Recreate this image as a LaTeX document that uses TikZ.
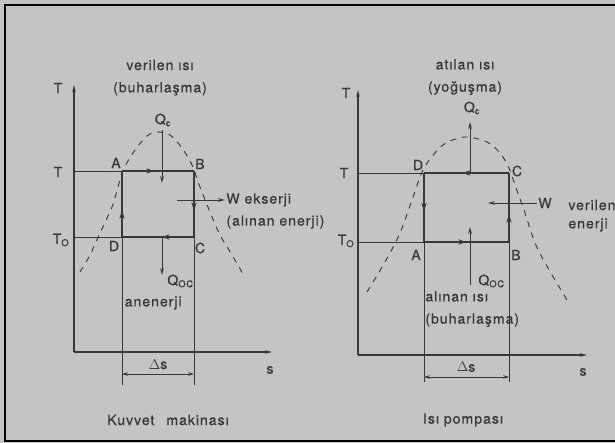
\documentclass[tikz,border=0pt]{standalone}
\usepackage{fontspec}
\setmainfont{TeX Gyre Heros}[LetterSpace=7,FakeBold=0.6]
\usetikzlibrary{arrows.meta,decorations.markings}
\definecolor{paper}{gray}{0.77}
\definecolor{ink}{gray}{0.22}

\begin{document}
\begin{tikzpicture}[every node/.style={font=\fontsize{12}{19}\selectfont, text=ink, inner sep=1pt},
	axisline/.style={ink, line width=0.9pt, -{Stealth[length=6pt,width=3pt]}},
	loopline/.style={ink, line width=1.2pt},
	guide/.style={ink, line width=0.7pt},
	flow/.style={ink, line width=0.8pt, -{Stealth[length=6pt,width=3.2pt]}},
	midarrow/.style={postaction={decorate, decoration={markings, mark=at position #1 with {\arrow{Stealth[length=7pt,width=4.5pt]}}}}},
	midarrow/.default=0.5,
	dome/.style={ink, line width=0.8pt, dash pattern=on 5pt off 5pt}]
	\fill[paper] (0,0) rectangle (18.45,13.29);
	\useasboundingbox (0,0) rectangle (18.45,13.29);
	\draw[black, line width=1.8pt] (18.45,13.14) -| (0.15,0.06) -- (18.45,0.06);

	% Kuvvet makinasi
	\coordinate (kO) at (2.22,2.73);
	\coordinate (kTop) at (2.22,10.74);
	\coordinate (kEnd) at (8.16,2.73);
	\coordinate (kT) at (2.22,8.16);
	\coordinate (kTo) at (2.22,6.18);
	\coordinate (kA) at (3.66,8.16);
	\coordinate (kB) at (5.82,8.16);
	\coordinate (kC) at (5.82,6.18);
	\coordinate (kD) at (3.66,6.18);
	\coordinate (kDb) at (3.66,1.74);
	\coordinate (kCb) at (5.82,1.74);
	\coordinate (kDs) at (3.66,2.07);
	\coordinate (kCs) at (5.82,2.07);
	\draw[axisline] (kO) -- (kTop);
	\draw[axisline] (kO) -- (kEnd);
	\draw[guide] (kT) -- (kA);
	\draw[guide] (kTo) -- (kD);
	\draw[guide] (kD) -- (kDb);
	\draw[guide] (kC) -- (kCb);
	\draw[loopline, midarrow=0.45] (kA) -- (kB);
	\draw[loopline, midarrow=0.6] (kB) -- (kC);
	\draw[loopline, midarrow=0.45] (kC) -- (kD);
	\draw[loopline, midarrow=0.4] (kD) -- (kA);
	\draw[guide, {Stealth[length=5pt,width=3pt]}-{Stealth[length=5pt,width=3pt]}] (kDs) -- (kCs);
	\draw[dome] plot[smooth] coordinates {(2.40,5.13) (2.70,5.64) (3.00,6.30) (3.36,7.08) (3.54,7.68) (3.69,8.19) (4.05,8.79) (4.41,9.21) (4.71,9.33) (5.10,9.24) (5.46,8.85) (5.76,8.34) (6.00,7.68) (6.30,6.93) (6.60,6.24) (6.96,5.64) (7.29,5.07)};
	\coordinate (kQtop) at (4.86,9.39);
	\coordinate (kQtip) at (4.86,7.80);
	\coordinate (kQoTop) at (4.86,6.18);
	\coordinate (kQoTip) at (4.86,5.04);
	\coordinate (kWs) at (5.31,7.29);
	\node (kTaxis) at (1.74,10.65) {T};
	\node (kTlab) at (1.74,8.13) {T};
	\node (kTolab) at (1.83,6.09) {T\textsubscript{O}};
	\node (kAlab) at (3.48,8.40) {A};
	\node (kBlab) at (6.00,8.37) {B};
	\node (kClab) at (6.00,5.85) {C};
	\node (kDlab) at (3.42,5.91) {D};
	\node (kslab) at (8.10,2.19) {s};
	\node (kds) at (4.74,2.36) {$\Delta$s};
	\node (kQ) at (4.89,9.69) {Q\textsubscript{c}};
	\node[anchor=west] (kQo) at (4.98,4.86) {Q\textsubscript{OC}};
	\node[anchor=west] (kAn) at (3.70,4.20) {anenerji};
	\node[anchor=west] (kW) at (6.75,7.29) {W ekserji};
	\node[anchor=west] (kWn) at (6.75,6.63) {(alınan enerji)};
	\node[align=center] (kHead) at (4.80,10.96) {verilen ısı\\(buharlaşma)};
	\node (kTitle) at (5.04,0.69) {Kuvvet\hspace{0.5em} makinası};
	\draw[flow] (kQtop) -- (kQtip);
	\draw[flow] (kQoTop) -- (kQoTip);
	\draw[flow] (kWs) -- (kW.west);

	% Isi pompasi
	\coordinate (pO) at (10.74,2.64);
	\coordinate (pTop) at (10.74,10.59);
	\coordinate (pEnd) at (17.61,2.64);
	\coordinate (pT) at (10.74,8.10);
	\coordinate (pTo) at (10.74,6.03);
	\coordinate (pD) at (12.72,8.10);
	\coordinate (pC) at (15.27,8.10);
	\coordinate (pB) at (15.27,6.03);
	\coordinate (pA) at (12.72,6.03);
	\coordinate (pAb) at (12.72,1.83);
	\coordinate (pBb) at (15.27,1.83);
	\coordinate (pAs) at (12.72,1.98);
	\coordinate (pBs) at (15.27,1.98);
	\draw[axisline] (pO) -- (pTop);
	\draw[axisline] (pO) -- (pEnd);
	\draw[guide] (pT) -- (pD);
	\draw[guide] (pTo) -- (pA);
	\draw[guide] (pA) -- (pAb);
	\draw[guide] (pB) -- (pBb);
	\draw[loopline, midarrow=0.55] (pC) -- (pD);
	\draw[loopline, midarrow=0.55] (pD) -- (pA);
	\draw[loopline, midarrow=0.5] (pA) -- (pB);
	\draw[loopline, midarrow=0.4] (pB) -- (pC);
	\draw[guide, {Stealth[length=5pt,width=3pt]}-{Stealth[length=5pt,width=3pt]}] (pAs) -- (pBs);
	\draw[dome] plot[smooth] coordinates {(11.01,4.53) (11.55,5.43) (12.00,6.30) (12.36,7.29) (12.72,8.25) (13.29,8.94) (13.95,9.18) (14.61,9.03) (15.00,8.70) (15.27,8.25) (15.48,7.65) (15.72,6.99) (16.05,6.00) (16.44,5.25) (17.01,4.29)};
	\coordinate (pQbase) at (14.10,8.10);
	\coordinate (pQtip) at (14.10,9.63);
	\coordinate (pQoBase) at (14.10,4.74);
	\coordinate (pQoTip) at (14.10,6.48);
	\coordinate (pWtip) at (14.64,7.20);
	\node (pTaxis) at (10.38,10.50) {T};
	\node (pTlab) at (10.32,8.10) {T};
	\node (pTolab) at (10.38,6.06) {T\textsubscript{O}};
	\node (pDlab) at (12.54,8.34) {D};
	\node (pClab) at (15.51,8.16) {C};
	\node (pAlab) at (12.48,5.64) {A};
	\node (pBlab) at (15.48,5.64) {B};
	\node (pslab) at (17.49,2.13) {s};
	\node (pds) at (13.98,2.28) {$\Delta$s};
	\node (pQ) at (14.16,10.05) {Q\textsubscript{c}};
	\node[anchor=west] (pQo) at (14.31,4.86) {Q\textsubscript{OC}};
	\node[align=left, anchor=west] (pAl) at (12.72,4.02) {alınan ısı\\(buharlaşma)};
	\node (pW) at (16.35,7.20) {W};
	\node[anchor=west] (pVe) at (17.01,7.14) {verilen};
	\node[anchor=west] (pEn) at (17.01,6.54) {enerji};
	\node[align=center] (pHead) at (13.95,10.98) {atılan ısı\\(yoğuşma)};
	\node (pTitle) at (13.89,0.69) {Isı pompası};
	\draw[flow] (pQbase) -- (pQtip);
	\draw[flow] (pQoBase) -- (pQoTip);
	\draw[flow] (pW.west) -- (pWtip);
\end{tikzpicture}
\end{document}
